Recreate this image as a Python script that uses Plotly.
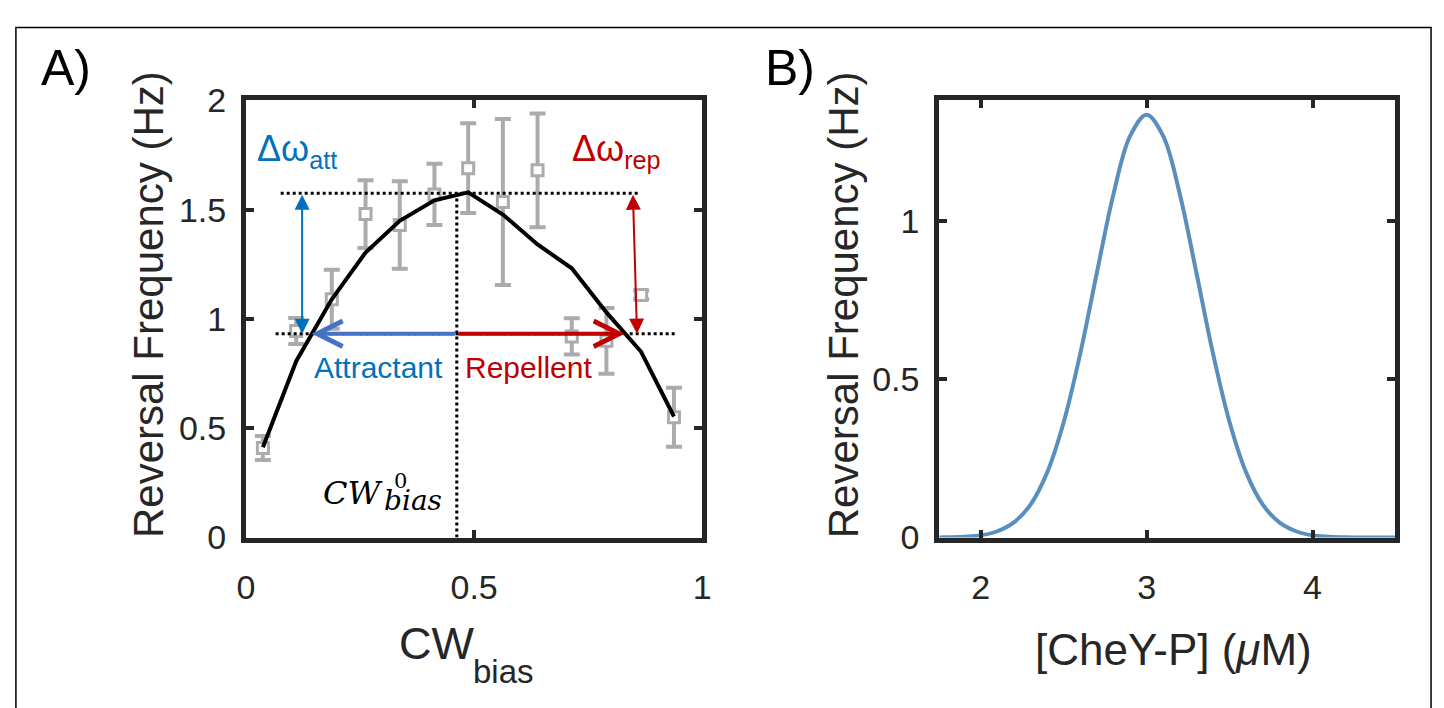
import plotly.graph_objects as go

W, H = 1444, 708

# ---------------- Panel A data ----------------
cw_bias = [0.037, 0.110, 0.188, 0.262, 0.337, 0.413, 0.487, 0.563, 0.639, 0.714, 0.790, 0.866, 0.938]
rev_freq = [0.41, 0.945, 1.09, 1.48, 1.43, 1.57, 1.69, 1.535, 1.68, 0.92, 0.90, 1.11, 0.55]
rev_err = [0.055, 0.06, 0.135, 0.155, 0.20, 0.14, 0.205, 0.38, 0.26, 0.083, 0.15, 0.02, 0.135]
model_freq = [0.413, 0.807, 1.09, 1.304, 1.449, 1.543, 1.579, 1.478, 1.341, 1.232, 1.03, 0.85, 0.554]

peak_level = 1.575
base_level = 0.933
cw0 = 0.462
hline_top_x = [0.076, 0.859]
hline_bot_x = [0.065, 0.945]
vline_y = [0.0, 1.575]
att_tip_x = 0.144
rep_tip_x = 0.830
att_vert_x = 0.123
rep_vert_x_top = 0.848
rep_vert_x_bot = 0.857

xticks_a = [0, 0.5, 1]
yticks_a = [0, 0.5, 1, 1.5, 2]

# ---------------- Panel B data ----------------
cheyp = [1.75, 1.8, 1.9, 2.0, 2.1, 2.2, 2.3, 2.4, 2.5, 2.6, 2.7, 2.8, 2.9, 3.0,
         3.1, 3.2, 3.3, 3.4, 3.5, 3.6, 3.7, 3.8, 3.9, 4.0, 4.1, 4.2, 4.3, 4.4, 4.5]
rev_freq_b = [0.0, 0.001, 0.003, 0.007, 0.02, 0.048, 0.104, 0.205, 0.364, 0.581, 0.836, 1.084, 1.267, 1.335,
              1.267, 1.084, 0.836, 0.581, 0.364, 0.205, 0.104, 0.048, 0.02, 0.007, 0.003, 0.001, 0.0, 0.0, 0.0]
xticks_b = [2, 3, 4]
yticks_b = [0, 0.5, 1]

# ---------------- styles ----------------
GRAY = '#ABABAB'
AX = '#262626'
BLUE = '#0072BD'
BLUE2 = '#4472C4'
RED = '#C00000'
LINEB = '#5A8EBD'
FONT = 'Liberation Sans, Arial, sans-serif'
SERIF = 'DejaVu Serif, Liberation Serif, serif'


def px_x(p):
    return p / W


def px_y(p):
    return 1 - p / H


fig = go.Figure()

# error bars with square markers
fig.add_trace(go.Scatter(
    x=cw_bias, y=rev_freq, mode='markers',
    error_y=dict(type='data', array=rev_err, color=GRAY, thickness=4, width=8),
    marker=dict(symbol='square', size=11, color='white', line=dict(color=GRAY, width=3)),
    xaxis='x', yaxis='y', showlegend=False, hoverinfo='skip'))

# dotted reference lines
fig.add_trace(go.Scatter(x=hline_top_x, y=[peak_level, peak_level], mode='lines',
                         line=dict(color='black', width=3, dash='dot'), xaxis='x', yaxis='y', showlegend=False))
fig.add_trace(go.Scatter(x=hline_bot_x, y=[base_level, base_level], mode='lines',
                         line=dict(color='black', width=3, dash='dot'), xaxis='x', yaxis='y', showlegend=False))
fig.add_trace(go.Scatter(x=[cw0, cw0], y=vline_y, mode='lines',
                         line=dict(color='black', width=3, dash='dot'), xaxis='x', yaxis='y', showlegend=False))

# model curve
fig.add_trace(go.Scatter(x=cw_bias, y=model_freq, mode='lines',
                         line=dict(color='black', width=4), xaxis='x', yaxis='y', showlegend=False))

# panel B curve
fig.add_trace(go.Scatter(x=cheyp, y=rev_freq_b, mode='lines', line_shape='spline',
                         line=dict(color=LINEB, width=4), xaxis='x2', yaxis='y2', showlegend=False))

axis_common = dict(showline=True, linewidth=5, linecolor=AX, mirror='ticks', ticks='inside',
                   ticklen=8, tickwidth=4, tickcolor=AX, showgrid=False, zeroline=False,
                   tickfont=dict(family=FONT, size=34, color=AX))

fig.update_layout(
    width=W, height=H, margin=dict(l=0, r=0, t=0, b=0),
    paper_bgcolor='white', plot_bgcolor='white', showlegend=False,
    xaxis=dict(domain=[px_x(240), px_x(702)], range=[0, 1], tickvals=xticks_a,
               ticktext=[f'{v:g}' for v in xticks_a], anchor='y', ticklabelstandoff=16, **axis_common),
    yaxis=dict(domain=[px_y(548), px_y(86)], range=[0, 2], tickvals=yticks_a,
               ticktext=[f'{v:g}' for v in yticks_a], anchor='x', ticklabelstandoff=8, **axis_common),
    xaxis2=dict(domain=[px_x(942), px_x(1404)], range=[1.75, 4.5], tickvals=xticks_b,
                ticktext=[f'{v:g}' for v in xticks_b], anchor='y2', ticklabelstandoff=16, **axis_common),
    yaxis2=dict(domain=[px_y(548), px_y(86)], range=[0, 1.38], tickvals=yticks_b,
                ticktext=[f'{v:g}' for v in yticks_b], anchor='x2', ticklabelstandoff=8, **axis_common),
)

ann = []
# arrows (panel A)
ann.append(dict(x=att_tip_x, y=base_level, ax=cw0, ay=base_level, xref='x', yref='y', axref='x', ayref='y',
                text='', showarrow=True, arrowhead=5, arrowsize=1.25, arrowwidth=4, arrowcolor=BLUE2, standoff=0))
ann.append(dict(x=rep_tip_x, y=base_level, ax=cw0, ay=base_level, xref='x', yref='y', axref='x', ayref='y',
                text='', showarrow=True, arrowhead=5, arrowsize=1.25, arrowwidth=4, arrowcolor=RED, standoff=0))
ann.append(dict(x=att_vert_x, y=base_level, ax=att_vert_x, ay=peak_level, xref='x', yref='y', axref='x', ayref='y',
                text='', showarrow=True, arrowhead=2, startarrowhead=2, arrowside='end+start',
                arrowsize=1.5, startarrowsize=1.5, arrowwidth=2, arrowcolor=BLUE))
ann.append(dict(x=rep_vert_x_bot, y=base_level, ax=rep_vert_x_top, ay=peak_level, xref='x', yref='y', axref='x', ayref='y',
                text='', showarrow=True, arrowhead=2, startarrowhead=2, arrowside='end+start',
                arrowsize=1.5, startarrowsize=1.5, arrowwidth=2, arrowcolor=RED))

# texts (panel A)
ann.append(dict(x=0.019, y=1.77, xref='x', yref='y', text='Δω<sub>att</sub>', showarrow=False,
                xanchor='left', yanchor='middle', font=dict(family=FONT, size=36, color=BLUE)))
ann.append(dict(x=0.71, y=1.77, xref='x', yref='y', text='Δω<sub>rep</sub>', showarrow=False,
                xanchor='left', yanchor='middle', font=dict(family=FONT, size=36, color=RED)))
ann.append(dict(x=0.29, y=0.778, xref='x', yref='y', text='Attractant', showarrow=False,
                xanchor='center', yanchor='middle', font=dict(family=FONT, size=30, color=BLUE)))
ann.append(dict(x=0.619, y=0.778, xref='x', yref='y', text='Repellent', showarrow=False,
                xanchor='center', yanchor='middle', font=dict(family=FONT, size=30, color=RED)))
ann.append(dict(x=0.305, y=0.204, xref='x', yref='y', text='<i>CW</i>', showarrow=False,
                xanchor='right', yanchor='middle', font=dict(family=SERIF, size=32, color='black')))
ann.append(dict(x=0.339, y=0.258, xref='x', yref='y', text='0', showarrow=False,
                xanchor='center', yanchor='middle', font=dict(family=SERIF, size=21, color='black')))
ann.append(dict(x=0.298, y=0.17, xref='x', yref='y', text='<i>bias</i>', showarrow=False,
                xanchor='left', yanchor='middle', font=dict(family=SERIF, size=28, color='black')))

# axis titles
ann.append(dict(x=px_x(142), y=px_y(302), xref='paper', yref='paper', text='Reversal Frequency (Hz)',
                textangle=-90, showarrow=False, xanchor='center', yanchor='middle',
                font=dict(family=FONT, size=42, color=AX)))
ann.append(dict(x=px_x(845), y=px_y(302), xref='paper', yref='paper', text='Reversal Frequency (Hz)',
                textangle=-90, showarrow=False, xanchor='center', yanchor='middle',
                font=dict(family=FONT, size=42, color=AX)))
ann.append(dict(x=px_x(473), y=px_y(660), xref='paper', yref='paper', text='CW',
                showarrow=False, xanchor='right', yanchor='middle', font=dict(family=FONT, size=45, color=AX)))
ann.append(dict(x=px_x(468), y=px_y(690), xref='paper', yref='paper', text='bias',
                showarrow=False, xanchor='left', yanchor='middle', font=dict(family=FONT, size=33, color=AX)))
ann.append(dict(x=px_x(1179), y=px_y(666), xref='paper', yref='paper', text='[CheY-P] (<i>μ</i>M)',
                showarrow=False, xanchor='center', yanchor='middle', font=dict(family=FONT, size=44, color=AX)))

# panel labels
ann.append(dict(x=px_x(30), y=px_y(52), xref='paper', yref='paper', text='A)', showarrow=False,
                xanchor='left', yanchor='middle', font=dict(family=FONT, size=50, color='black')))
ann.append(dict(x=px_x(764), y=px_y(52), xref='paper', yref='paper', text='B)', showarrow=False,
                xanchor='left', yanchor='middle', font=dict(family=FONT, size=50, color='black')))

fig.update_layout(annotations=ann)

# outer frame of the figure
fig.add_shape(type='rect', xref='paper', yref='paper', x0=px_x(7), x1=px_x(1440), y0=-0.05, y1=px_y(9),
              line=dict(color='black', width=1.5), fillcolor='rgba(0,0,0,0)', layer='above')

fig.write_html('out.html')
